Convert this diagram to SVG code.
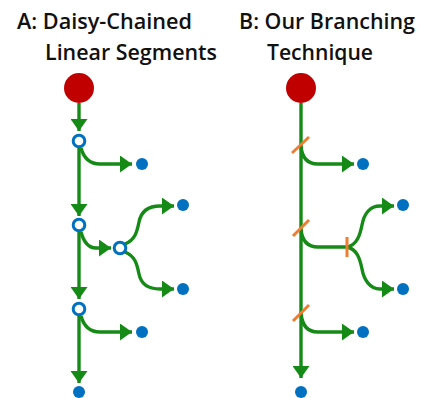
<svg xmlns="http://www.w3.org/2000/svg" width="421" height="398" viewBox="0 0 421 398">
  <style>
    .title { font-family: "Open Sans", "Noto Sans", "Liberation Sans", sans-serif; font-size: 22px; font-weight: 600; fill: #111; }
    .edge { fill: none; stroke: #168a16; stroke-width: 3.4; }
    .arrow { marker-end: url(#head); }
    .root { fill: #c00000; }
    .leaf { fill: #0070c0; }
    .joint { fill: #fff; stroke: #0070c0; stroke-width: 3; }
    .cut { stroke: #ed7d31; stroke-width: 3; stroke-linecap: butt; }
  </style>
  <defs>
    <marker id="head" markerUnits="userSpaceOnUse" markerWidth="13" markerHeight="17" viewBox="0 0 13 17" refX="12" refY="8.5" orient="auto">
      <path d="M0,0 L12,8.5 L0,17 Z" fill="#168a16"/>
    </marker>
  </defs>
  <rect width="421" height="398" fill="#fff"/>

  <!-- headings -->
  <g id="title-a">
    <text class="title" x="17" y="29" textLength="175" lengthAdjust="spacingAndGlyphs">A: Daisy-Chained</text>
    <text class="title" x="45" y="60" textLength="172" lengthAdjust="spacingAndGlyphs">Linear Segments</text>
  </g>
  <g id="title-b">
    <text class="title" x="239" y="29" textLength="176" lengthAdjust="spacingAndGlyphs">B: Our Branching</text>
    <text class="title" x="267" y="60" textLength="106" lengthAdjust="spacingAndGlyphs">Technique</text>
  </g>

  <!-- connectors -->
  <g id="connectors">
    <!-- A: chain of linear segments -->
    <path class="edge arrow" d="M79,103 L79,131"/>
    <path class="edge arrow" d="M79,148 L79,216"/>
    <path class="edge arrow" d="M79,232 L79,299"/>
    <path class="edge arrow" d="M79,316 L79,383"/>
    <path class="edge arrow" d="M81,148 C84,159 90,164 100,164 L132,164"/>
    <path class="edge arrow" d="M81,232 C84,243 89,248 96,248 L111,248"/>
    <path class="edge arrow" d="M125,244 C135,240 137,232 139,222 C141,212 148,206 160,206 L174,206"/>
    <path class="edge arrow" d="M125,252 C135,256 137,264 139,274 C141,284 148,289 160,289 L174,289"/>
    <path class="edge arrow" d="M81,316 C84,327 90,332 100,332 L132,332"/>

    <!-- B: single branching tree -->
    <path class="edge arrow" d="M301,103 L301,378"/>
    <path class="edge arrow" d="M301,146 C302,159 308,164 318,164 L354,164"/>
    <path class="edge" d="M301,229 C302,242 308,247 318,247 L347,247"/>
    <path class="edge arrow" d="M347,247 C357,245 360,235 362,225 C364,214 370,206 380,206 L394,206"/>
    <path class="edge arrow" d="M347,247 C357,249 360,259 362,269 C364,280 370,289 380,289 L394,289"/>
    <path class="edge arrow" d="M301,313 C302,326 308,332 318,332 L354,332"/>
    <!-- cut marks on B -->
    <line class="cut" x1="292" y1="153" x2="309" y2="137"/>
    <line class="cut" x1="293" y1="236" x2="309" y2="220"/>
    <line class="cut" x1="293" y1="321" x2="309" y2="305"/>
    <line class="cut" x1="347" y1="237" x2="347" y2="257"/>
  </g>

  <!-- A nodes -->
  <g id="a-root"><circle class="root" cx="79" cy="88" r="15"/></g>
  <g id="a-j1"><circle class="joint" cx="79" cy="141" r="5.8"/></g>
  <g id="a-j2"><circle class="joint" cx="79" cy="225" r="5.8"/></g>
  <g id="a-j3"><circle class="joint" cx="120" cy="248" r="5.8"/></g>
  <g id="a-j4"><circle class="joint" cx="79" cy="309" r="5.8"/></g>
  <g id="a-leaf1"><circle class="leaf" cx="142" cy="164" r="6"/></g>
  <g id="a-leaf2"><circle class="leaf" cx="183" cy="205" r="6"/></g>
  <g id="a-leaf3"><circle class="leaf" cx="183" cy="289" r="6"/></g>
  <g id="a-leaf4"><circle class="leaf" cx="142" cy="332" r="6"/></g>
  <g id="a-leaf5"><circle class="leaf" cx="79" cy="392" r="6"/></g>

  <!-- B nodes -->
  <g id="b-root"><circle class="root" cx="301" cy="88" r="15"/></g>
  <g id="b-leaf1"><circle class="leaf" cx="363" cy="164" r="6"/></g>
  <g id="b-leaf2"><circle class="leaf" cx="403" cy="205" r="6"/></g>
  <g id="b-leaf3"><circle class="leaf" cx="403" cy="289" r="6"/></g>
  <g id="b-leaf4"><circle class="leaf" cx="363" cy="332" r="6"/></g>
  <g id="b-leaf5"><circle class="leaf" cx="301" cy="392" r="6"/></g>
</svg>
